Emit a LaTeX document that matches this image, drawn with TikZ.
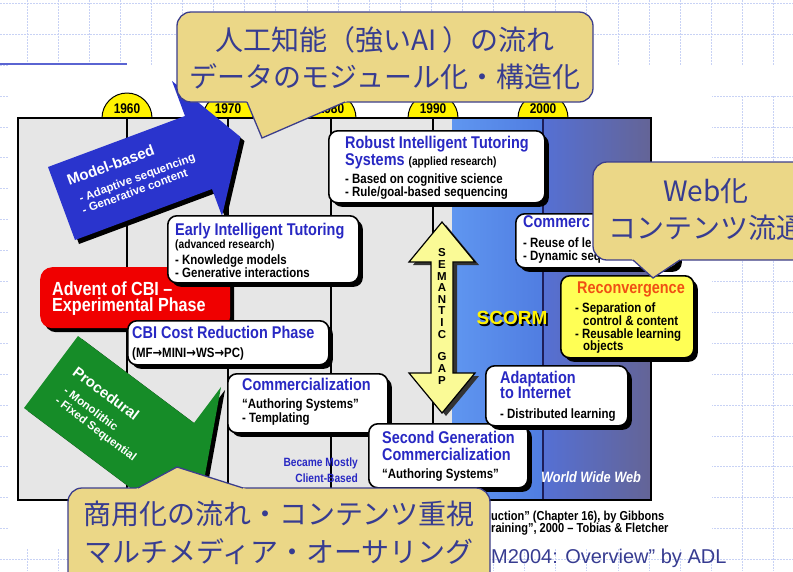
\documentclass[tikz,border=0pt]{standalone}
\usepackage{fontspec}
\setmainfont{Liberation Sans}
\newfontfamily\nar[FakeStretch=0.85]{Liberation Sans}
\newfontfamily\dvs[FakeStretch=0.85]{DejaVu Sans}
\newfontfamily\jpf{Noto Sans CJK JP}
\usetikzlibrary{shadows}
\definecolor{gridc}{RGB}{200,210,245}
\definecolor{frameg}{RGB}{230,230,230}
\definecolor{tblue}{RGB}{40,40,195}
\definecolor{arrblue}{RGB}{42,52,205}
\definecolor{arrgreen}{RGB}{22,140,40}
\definecolor{cbired}{RGB}{240,0,0}
\definecolor{callfill}{RGB}{235,215,135}
\definecolor{callline}{RGB}{60,62,140}
\definecolor{calltext}{RGB}{55,60,145}
\definecolor{recon}{RGB}{240,80,20}
\definecolor{yelbox}{RGB}{255,255,85}
\definecolor{semy}{RGB}{250,250,150}
\definecolor{blueal}{RGB}{95,150,240}
\definecolor{bluear}{RGB}{80,125,225}
\definecolor{blueb}{RGB}{85,112,212}
\definecolor{bluec}{RGB}{100,100,150}
\definecolor{slideline}{RGB}{90,100,210}
\definecolor{divblue}{RGB}{30,30,90}
\newcommand{\rarr}{{\dvs\bfseries →}}
\begin{document}
\begin{tikzpicture}[x=1pt,y=-1pt,
  gridl/.style={draw=gridc,line width=0.8pt,dash pattern=on 2pt off 1pt},
  wbox/.style={draw=black,line width=1.6pt,fill=white,rounded corners=9pt,inner sep=0pt,anchor=north west,drop shadow={shadow xshift=4pt,shadow yshift=-4pt,opacity=1,fill=black}},
  ttl/.style={font=\nar\bfseries\fontsize{17}{17}\selectfont,text=tblue,inner sep=0pt,anchor=base west},
  bdy/.style={font=\nar\bfseries\fontsize{13.5}{13.5}\selectfont,text=black,inner sep=0pt,anchor=base west},
  sml/.style={font=\nar\bfseries\fontsize{12}{12}\selectfont,text=black,inner sep=0pt,anchor=base west},
  redt/.style={font=\nar\bfseries\fontsize{19}{19}\selectfont,text=white,inner sep=0pt,anchor=base west},
  yr/.style={font=\nar\bfseries\fontsize{14}{14}\selectfont,inner sep=0pt},
  tabc/.style={draw=black,line width=1pt,fill=yellow},
  sgl/.style={font=\bfseries\fontsize{11.5}{11.5}\selectfont,inner sep=0pt},
  arrtxt/.style={text=white,inner sep=0pt,anchor=base west,align=left},
  bm/.style={font=\nar\bfseries\fontsize{12}{12}\selectfont,text=tblue,inner sep=0pt,anchor=base east},
  cit/.style={font=\nar\bfseries\fontsize{13}{13}\selectfont,text=black,inner sep=0pt,anchor=base west},
  jp/.style={font=\jpf\fontsize{28}{28}\selectfont,text=calltext,inner sep=0pt,anchor=base},
  callbox/.style={draw=callline,line width=1.3pt,fill=callfill,rounded corners=14pt},
  callptr/.style={draw=callline,line width=1.3pt},
]
\clip (0,0) rectangle (793,571);
% slide background grid
\fill[white] (0,0) rectangle (793,571);
\foreach \k in {0,...,25} \draw[gridl] ({27+31.1*\k},0) -- ({27+31.1*\k},571);
\foreach \k in {0,...,18} \draw[gridl] (0,{3.3+30.9*\k}) -- (793,{3.3+30.9*\k});
\fill[white] (8,65) rectangle (712,548);
\fill[white] (712,65) rectangle (793,96);
\draw[slideline,line width=1.2pt] (0,64) -- (127,64);

% year tabs
\foreach \x in {127,228,331,433,543} \draw[tabc] (\x,118) circle[radius=25pt];

% frame
\fill[frameg] (18,118) rectangle (651,500);
\shade[left color=blueal,right color=bluear] (452,118) rectangle (543,500);
\shade[left color=blueb,right color=bluec] (543,118) rectangle (651,500);
\foreach \x in {127,228,331,433} \draw[line width=1.2pt] (\x,118) -- (\x,500);
\draw[divblue,line width=1.2pt] (543,118) -- (543,500);
\draw[line width=1.5pt] (18,118) rectangle (651,500);

\node[yr] (y1960) at (127,109) {1960};
\node[yr] (y1970) at (228,109) {1970};
\node[yr] (y1980) at (331,109) {1980};
\node[yr] (y1990) at (433,109) {1990};
\node[yr] (y2000) at (543,109) {2000};

% blue arrow: model-based
\fill[black,shift={(4,4)}] (48,167) -- (185,116) -- (172,81) -- (240.5,137) -- (222,216) -- (212,189) -- (75,240) -- cycle;
\fill[arrblue] (48,167) -- (185,116) -- (172,81) -- (240.5,137) -- (222,216) -- (212,189) -- (75,240) -- cycle;
\node[arrtxt,rotate=20,font=\bfseries\fontsize{11.5}{12}\selectfont] (modelb) at (80,215.5)
  {{\fontsize{15}{15}\selectfont Model-based}\\[7.5pt]\hspace*{5pt}- Adaptive sequencing\\\hspace*{4pt}- Generative content};

% green arrow: procedural
\fill[black,shift={(4,3)}] (78,336) -- (194,423) -- (221,387) -- (203,486) -- (113,531) -- (140,495) -- (24,408) -- cycle;
\fill[arrgreen] (78,336) -- (194,423) -- (221,387) -- (203,486) -- (113,531) -- (140,495) -- (24,408) -- cycle;
\node[arrtxt,rotate=-37,font=\bfseries\fontsize{11.5}{13}\selectfont] (proced) at (51.7,400.4)
  {{\fontsize{15}{15}\selectfont Procedural}\\[7pt]\hspace*{4pt}- Monolithic\\\hspace*{3pt}- Fixed Sequential};

% semantic gap double arrow
\fill[black!80,shift={(4,3)}] (442,222) -- (475,262) -- (453,262) -- (453,373) -- (475,373) -- (442,413) -- (409,373) -- (431,373) -- (431,262) -- (409,262) -- cycle;
\draw[fill=semy,line width=1.2pt] (442,222) -- (475,262) -- (453,262) -- (453,373) -- (475,373) -- (442,413) -- (409,373) -- (431,373) -- (431,262) -- (409,262) -- cycle;
\foreach \l [count=\i] in {S,E,M,A,N,T,I,C} \node[sgl] (sg\i) at (442,{241.4+11.6*\i}) {\l};
\foreach \l [count=\i] in {G,A,P} \node[sgl] (gp\i) at (442,{345+12*\i}) {\l};

% SCORM (yellow with dark shadow, one node)
\node[font=\bfseries\fontsize{19}{19}\selectfont,text=yellow,inner sep=0pt] (scorm) at (512,319)
  {\makebox[0pt][l]{\hspace{1.8pt}\raisebox{-1.8pt}{\color{black}SCORM}}SCORM};

% red box
\node[fill=cbired,rounded corners=12pt,inner sep=0pt,anchor=north west,minimum width=190pt,minimum height=61pt,drop shadow={shadow xshift=4pt,shadow yshift=-4pt,opacity=1,fill=black}] (advent) at (40,267) {};
\node[redt] (adv1) at (52,295) {Advent of CBI –};
\node[redt] (adv2) at (52,311) {Experimental Phase};

% robust ITS
\node[wbox,minimum width=216pt,minimum height=72pt] (robust) at (328,130) {};
\node[ttl] (rb1) at (345,148) {Robust Intelligent Tutoring};
\node[ttl] (rb2) at (345,165) {Systems {\color{black}\fontsize{12}{12}\selectfont (applied research)}};
\node[bdy] (rb3) at (345,183) {- Based on cognitive science};
\node[bdy] (rb4) at (345,196) {- Rule/goal-based sequencing};

% early ITS
\node[wbox,minimum width=191pt,minimum height=67pt] (early) at (167,215) {};
\node[ttl] (ea1) at (175,235) {Early Intelligent Tutoring};
\node[sml] (ea2) at (175,248) {(advanced research)};
\node[bdy] (ea3) at (175,264) {- Knowledge models};
\node[bdy] (ea4) at (175,277) {- Generative interactions};

% CBI cost reduction
\node[wbox,minimum width=201pt,minimum height=44pt] (cbicost) at (127,320) {};
\node[ttl] (cb1) at (132,338) {CBI Cost Reduction Phase};
\node[bdy] (cb2) at (132,357) {(MF\rarr MINI\rarr WS\rarr PC)};

% commercialization
\node[wbox,minimum width=160pt,minimum height=59pt] (comm1) at (227,373) {};
\node[ttl] (cm1) at (242,390) {Commercialization};
\node[bdy] (cm2) at (242,408) {“Authoring Systems”};
\node[bdy] (cm3) at (242,422) {- Templating};

% second generation
\node[wbox,minimum width=159pt,minimum height=64pt] (secgen) at (368,423) {};
\node[ttl] (sg1x) at (382,443) {Second Generation};
\node[ttl] (sg2x) at (382,460) {Commercialization};
\node[bdy] (sg3x) at (382,478) {“Authoring Systems”};

% adaptation to internet
\node[wbox,minimum width=142pt,minimum height=60pt] (adapt) at (485,365) {};
\node[ttl] (ad1) at (500,383) {Adaptation};
\node[ttl] (ad2) at (500,398) {to Internet};
\node[bdy] (ad3) at (500,418) {- Distributed learning};

% commercialization 2000
\node[wbox,minimum width=162pt,minimum height=54pt] (comm2) at (515,213) {};
\node[ttl] (cc1) at (523,227) {Commerc};
\node[bdy] (cc2) at (523,247) {- Reuse of le};
\node[bdy] (cc3) at (523,260) {- Dynamic seq};

% reconvergence
\node[wbox,fill=yelbox,minimum width=133pt,minimum height=82pt] (recon) at (560,275) {};
\node[ttl,text=recon] (rc1) at (577,293) {Reconvergence};
\node[bdy] (rc2) at (575,312) {- Separation of};
\node[bdy] (rc3) at (583,325) {control \& content};
\node[bdy] (rc4) at (575,338) {- Reusable learning};
\node[bdy] (rc5) at (583,350) {objects};

% misc labels
\node[bm] (bm1) at (358,466) {Became Mostly};
\node[bm] (bm2) at (358,482) {Client-Based};
\node[font=\nar\bfseries\itshape\fontsize{15}{15}\selectfont,text=white,inner sep=0pt,anchor=base] (www) at (591,482) {World Wide Web};

% citations
\node[cit] (cit1) at (491,520) {uction” (Chapter 16), by Gibbons};
\node[cit] (cit2) at (491,532) {raining”, 2000 – Tobias \& Fletcher};
\node[font=\fontsize{20}{20}\selectfont,text=calltext,inner sep=0pt,anchor=base west] (adl) at (491,563) {M2004: Overview” by ADL};

% callout A
\draw[callbox] (177,12) rectangle (593,102);
\fill[callfill] (246.6,101) -- (262,138) -- (347.4,101) -- cycle;
\draw[callptr] (247,102) -- (262,138) -- (345,102);
\node[jp] (ca1) at (385,50) {人工知能（強いAI ）の流れ};
\node[jp] (ca2) at (385,87) {データのモジュール化・構造化};

% callout B
\draw[callbox] (593,162) rectangle (830,260);
\fill[callfill] (631.9,259) -- (653,278) -- (681.5,259) -- cycle;
\draw[callptr] (633,260) -- (653,278) -- (680,260);
\node[jp] (cb1x) at (706,201) {Web化};
\node[jp] (cb2x) at (706,238) {コンテンツ流通};

% callout C
\draw[callbox] (68,488) rectangle (490,600);
\fill[callfill] (136.1,489) -- (177,467) -- (246.1,489) -- cycle;
\draw[callptr] (138,488) -- (177,467) -- (243,488);
\node[jp] (cc1x) at (279,524.5) {商用化の流れ・コンテンツ重視};
\node[jp] (cc2x) at (279,562) {マルチメディア・オーサリング};
\end{tikzpicture}
\end{document}
